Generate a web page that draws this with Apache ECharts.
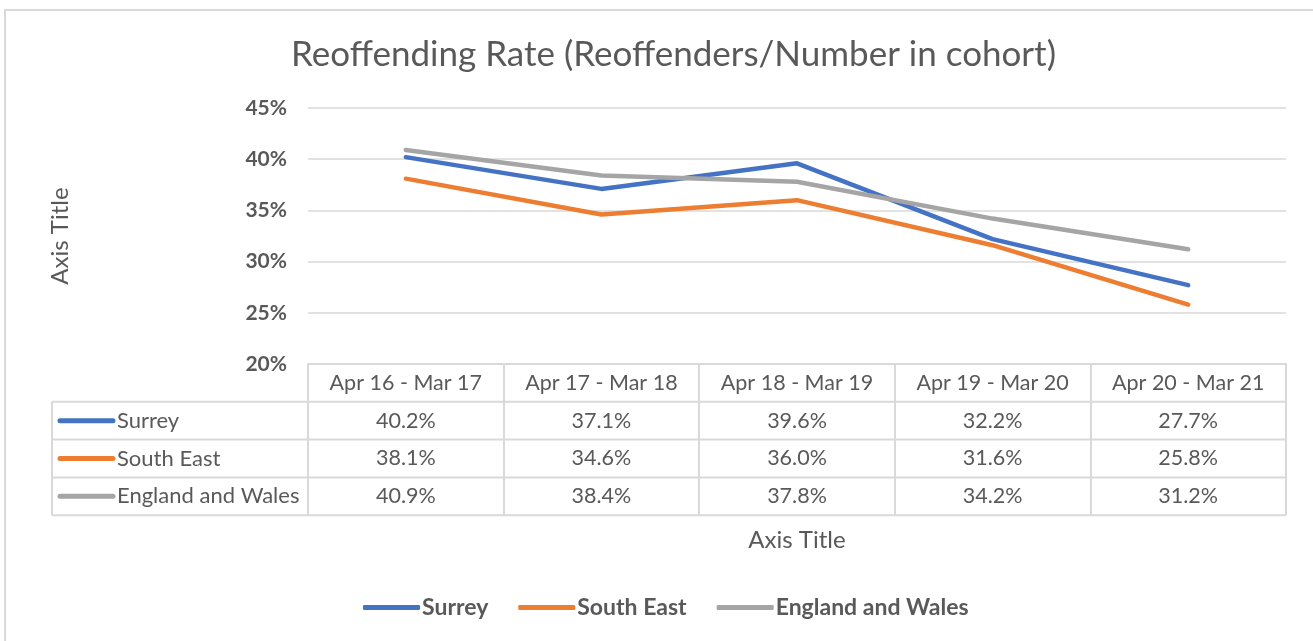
<!DOCTYPE html>
<html>
<head>
<meta charset="utf-8">
<title>Reoffending Rate</title>
<script src="https://cdn.jsdelivr.net/npm/echarts@6/dist/echarts.min.js"></script>
<style>
html, body { margin: 0; padding: 0; background: #fff; }
#chart { width: 1313px; height: 641px; }
</style>
</head>
<body>
<div id="chart"></div>
<script>
// data
const periods = ['Apr 16 - Mar 17', 'Apr 17 - Mar 18', 'Apr 18 - Mar 19', 'Apr 19 - Mar 20', 'Apr 20 - Mar 21'];
const seriesNames = ['Surrey', 'South East', 'England and Wales'];
const surrey = [40.2, 37.1, 39.6, 32.2, 27.7];
const southEast = [38.1, 34.6, 36.0, 31.6, 25.8];
const englandWales = [40.9, 38.4, 37.8, 34.2, 31.2];
const yTicks = [20, 25, 30, 35, 40, 45];

const colors = ['#4472C4', '#ED7D31', '#A5A5A5'];
const txt = '#595959';
const lineGrey = '#D9D9D9';
const font = 'Lato';

const gridL = 308, gridR = 1286, gridT = 108, gridB = 364;
const rowH = 37.8;
const tableL = 52;

const chart = echarts.init(document.getElementById('chart'));
const allData = [surrey, southEast, englandWales];

chart.setOption({
  backgroundColor: '#fff',
  animation: false,
  textStyle: { fontFamily: font },
  title: {
    text: 'Reoffending Rate (Reoffenders/Number in cohort)',
    left: 286, top: 32,
    textStyle: { fontFamily: font, fontSize: 35, fontWeight: 'normal', color: txt }
  },
  legend: {
    bottom: 17, left: 358,
    itemWidth: 57, itemHeight: 5, itemGap: 30,
    icon: 'roundRect',
    textStyle: { fontFamily: font, fontSize: 23, fontWeight: 'bold', color: txt, padding: [0, 0, 0, -3] },
    data: seriesNames
  },
  grid: { left: gridL, right: 1313 - gridR, top: gridT, bottom: 641 - gridB, containLabel: false },
  xAxis: {
    type: 'category',
    data: periods,
    boundaryGap: true,
    axisLine: { show: true, lineStyle: { color: lineGrey, width: 2 } },
    axisTick: { show: true, interval: 0, length: rowH * 4, lineStyle: { color: lineGrey, width: 2 } },
    axisLabel: { interval: 0, hideOverlap: false, margin: 8, fontFamily: font, fontSize: 21.5, color: txt },
    name: 'Axis Title',
    nameLocation: 'middle',
    nameGap: 164,
    nameTextStyle: { fontFamily: font, fontSize: 24, color: txt }
  },
  yAxis: {
    type: 'value',
    min: yTicks[0], max: yTicks[yTicks.length - 1], interval: yTicks[1] - yTicks[0],
    axisLine: { show: false },
    axisTick: { show: false },
    splitLine: { lineStyle: { color: lineGrey, width: 1.5 } },
    axisLabel: { formatter: '{value}%', margin: 21, fontFamily: font, fontSize: 21, fontWeight: 'bold', color: txt },
    name: 'Axis Title',
    nameLocation: 'middle',
    nameRotate: 90,
    nameGap: 236,
    nameTextStyle: { fontFamily: font, fontSize: 24, color: txt }
  },
  series: seriesNames.map((n, i) => ({
    name: n,
    type: 'line',
    data: allData[i],
    symbol: 'none',
    color: colors[i],
    lineStyle: { width: 4.5, color: colors[i], cap: 'round', join: 'round' }
  }))
});

// data table under the plot (Excel style)
const gfx = [];
// outer chart border
gfx.push({ type: 'rect', shape: { x: 5, y: 10, width: 1330, height: 660 }, style: { fill: 'none', stroke: lineGrey, lineWidth: 2 }, silent: true });
// horizontal rules
for (let r = 1; r <= 4; r++) {
  const y = gridB + rowH * r;
  gfx.push({ type: 'line', shape: { x1: tableL, y1: y, x2: gridR, y2: y }, style: { stroke: lineGrey, lineWidth: 2 }, silent: true });
}
gfx.push({ type: 'line', shape: { x1: tableL, y1: gridB + rowH, x2: tableL, y2: gridB + rowH * 4 }, style: { stroke: lineGrey, lineWidth: 2 }, silent: true });

seriesNames.forEach((n, i) => {
  const cy = gridB + rowH * (i + 1.5);
  gfx.push({ type: 'line', shape: { x1: 60, y1: cy, x2: 113, y2: cy }, style: { stroke: colors[i], lineWidth: 5, lineCap: 'round' }, silent: true });
  gfx.push({ type: 'text', x: 117, y: cy, style: { text: n, fontFamily: font, fontSize: 22, fill: txt, align: 'left', verticalAlign: 'middle' }, silent: true });
  allData[i].forEach((v, j) => {
    const cx = chart.convertToPixel({ xAxisIndex: 0 }, periods[j]);
    gfx.push({ type: 'text', x: cx, y: cy, style: { text: v.toFixed(1) + '%', fontFamily: font, fontSize: 21.5, fill: txt, align: 'center', verticalAlign: 'middle' }, silent: true });
  });
});

chart.setOption({ graphic: gfx });
</script>
</body>
</html>
